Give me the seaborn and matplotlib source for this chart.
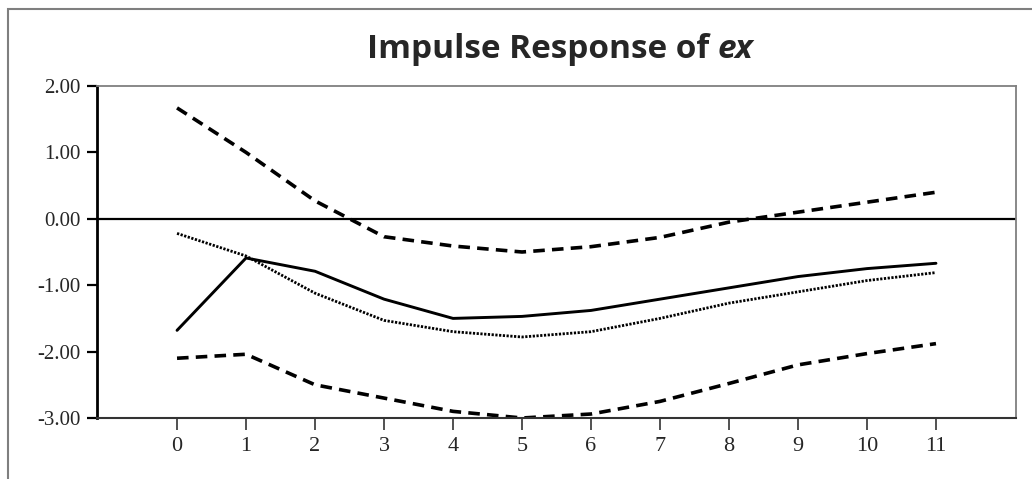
import numpy as np
import pandas as pd
import seaborn as sns
import matplotlib
matplotlib.use("Agg")
import matplotlib.pyplot as plt
from matplotlib.patches import Rectangle

# ---- data ----
periods = [0, 1, 2, 3, 4, 5, 6, 7, 8, 9, 10, 11]
response = [-1.68, -0.59, -0.79, -1.21, -1.50, -1.47, -1.38, -1.21, -1.04, -0.87, -0.75, -0.67]
response_alt = [-0.22, -0.56, -1.12, -1.53, -1.70, -1.78, -1.70, -1.50, -1.27, -1.10, -0.93, -0.81]
upper_band = [1.67, 1.00, 0.27, -0.27, -0.41, -0.50, -0.42, -0.28, -0.05, 0.10, 0.25, 0.40]
lower_band = [-2.10, -2.04, -2.50, -2.70, -2.90, -3.00, -2.94, -2.75, -2.48, -2.20, -2.03, -1.88]
y_ticks = [2.0, 1.0, 0.0, -1.0, -2.0, -3.0]
y_tick_labels = ["2.00", "1.00", "0.00", "-1.00", "-2.00", "-3.00"]
x_tick_labels = [str(p) for p in periods]
title_main = "Impulse Response of "
title_var = "ex"

sns.set_theme(style="white")
plt.rcParams["font.family"] = ["Liberation Serif", "DejaVu Serif"]

W, H = 1032, 479
fig = plt.figure(figsize=(W / 100, H / 100), dpi=100)
fig.patch.set_facecolor("white")

# outer frame (top and left edges visible)
fig.add_artist(Rectangle((8 / W, -0.1), 1.2, (H - 9) / H + 0.1, transform=fig.transFigure,
                         fill=False, edgecolor="#7f7f7f", linewidth=1.5))

ax = fig.add_axes([97 / W, (H - 418) / H, (1016 - 97) / W, (418 - 86) / H])
ax.set_facecolor("white")

df = pd.DataFrame({"period": periods, "resp": response, "alt": response_alt,
                   "up": upper_band, "lo": lower_band})

sns.lineplot(data=df, x="period", y="up", ax=ax, color="black", linewidth=2.6,
             linestyle=(0, (3.2, 2.0)))
sns.lineplot(data=df, x="period", y="lo", ax=ax, color="black", linewidth=2.6,
             linestyle=(0, (3.2, 2.0)))
sns.lineplot(data=df, x="period", y="alt", ax=ax, color="black", linewidth=2.0,
             linestyle=(0, (0.8, 0.55)))
sns.lineplot(data=df, x="period", y="resp", ax=ax, color="black", linewidth=2.1,
             linestyle="-")

ax.axhline(0, color="black", linewidth=1.6, zorder=1)

ax.set_xlim(-1.16, 12.16)
ax.set_ylim(-3.0, 2.0)
ax.set_xticks(periods)
ax.set_xticklabels(x_tick_labels, fontsize=16)
ax.set_yticks(y_ticks)
ax.set_yticklabels(y_tick_labels, fontsize=15)
ax.set_xlabel("")
ax.set_ylabel("")

ax.tick_params(axis="x", direction="out", length=8.5, width=1.2, color="#333333", pad=5,
               bottom=True)
ax.tick_params(axis="y", direction="out", length=7, width=1.6, color="black", pad=5,
               left=True)

for side in ["top", "right"]:
    ax.spines[side].set_color("#7f7f7f")
    ax.spines[side].set_linewidth(1.3)
ax.spines["left"].set_color("black")
ax.spines["left"].set_linewidth(2.0)
ax.spines["bottom"].set_color("#333333")
ax.spines["bottom"].set_linewidth(1.5)

# title: bold with italic variable name
t1 = fig.text(367 / W, (H - 58) / H, title_main, fontsize=24, fontweight="bold",
              family=["Open Sans", "DejaVu Sans"], ha="left", va="baseline")
ax.annotate(title_var, xy=(1, 0), xycoords=t1, xytext=(0, 0), textcoords="offset points",
            fontsize=24, fontweight="bold", fontstyle="italic",
            family=["Open Sans", "DejaVu Sans"], ha="left", va="bottom",
            annotation_clip=False)

fig.savefig("out.png", dpi=100, facecolor="white")
